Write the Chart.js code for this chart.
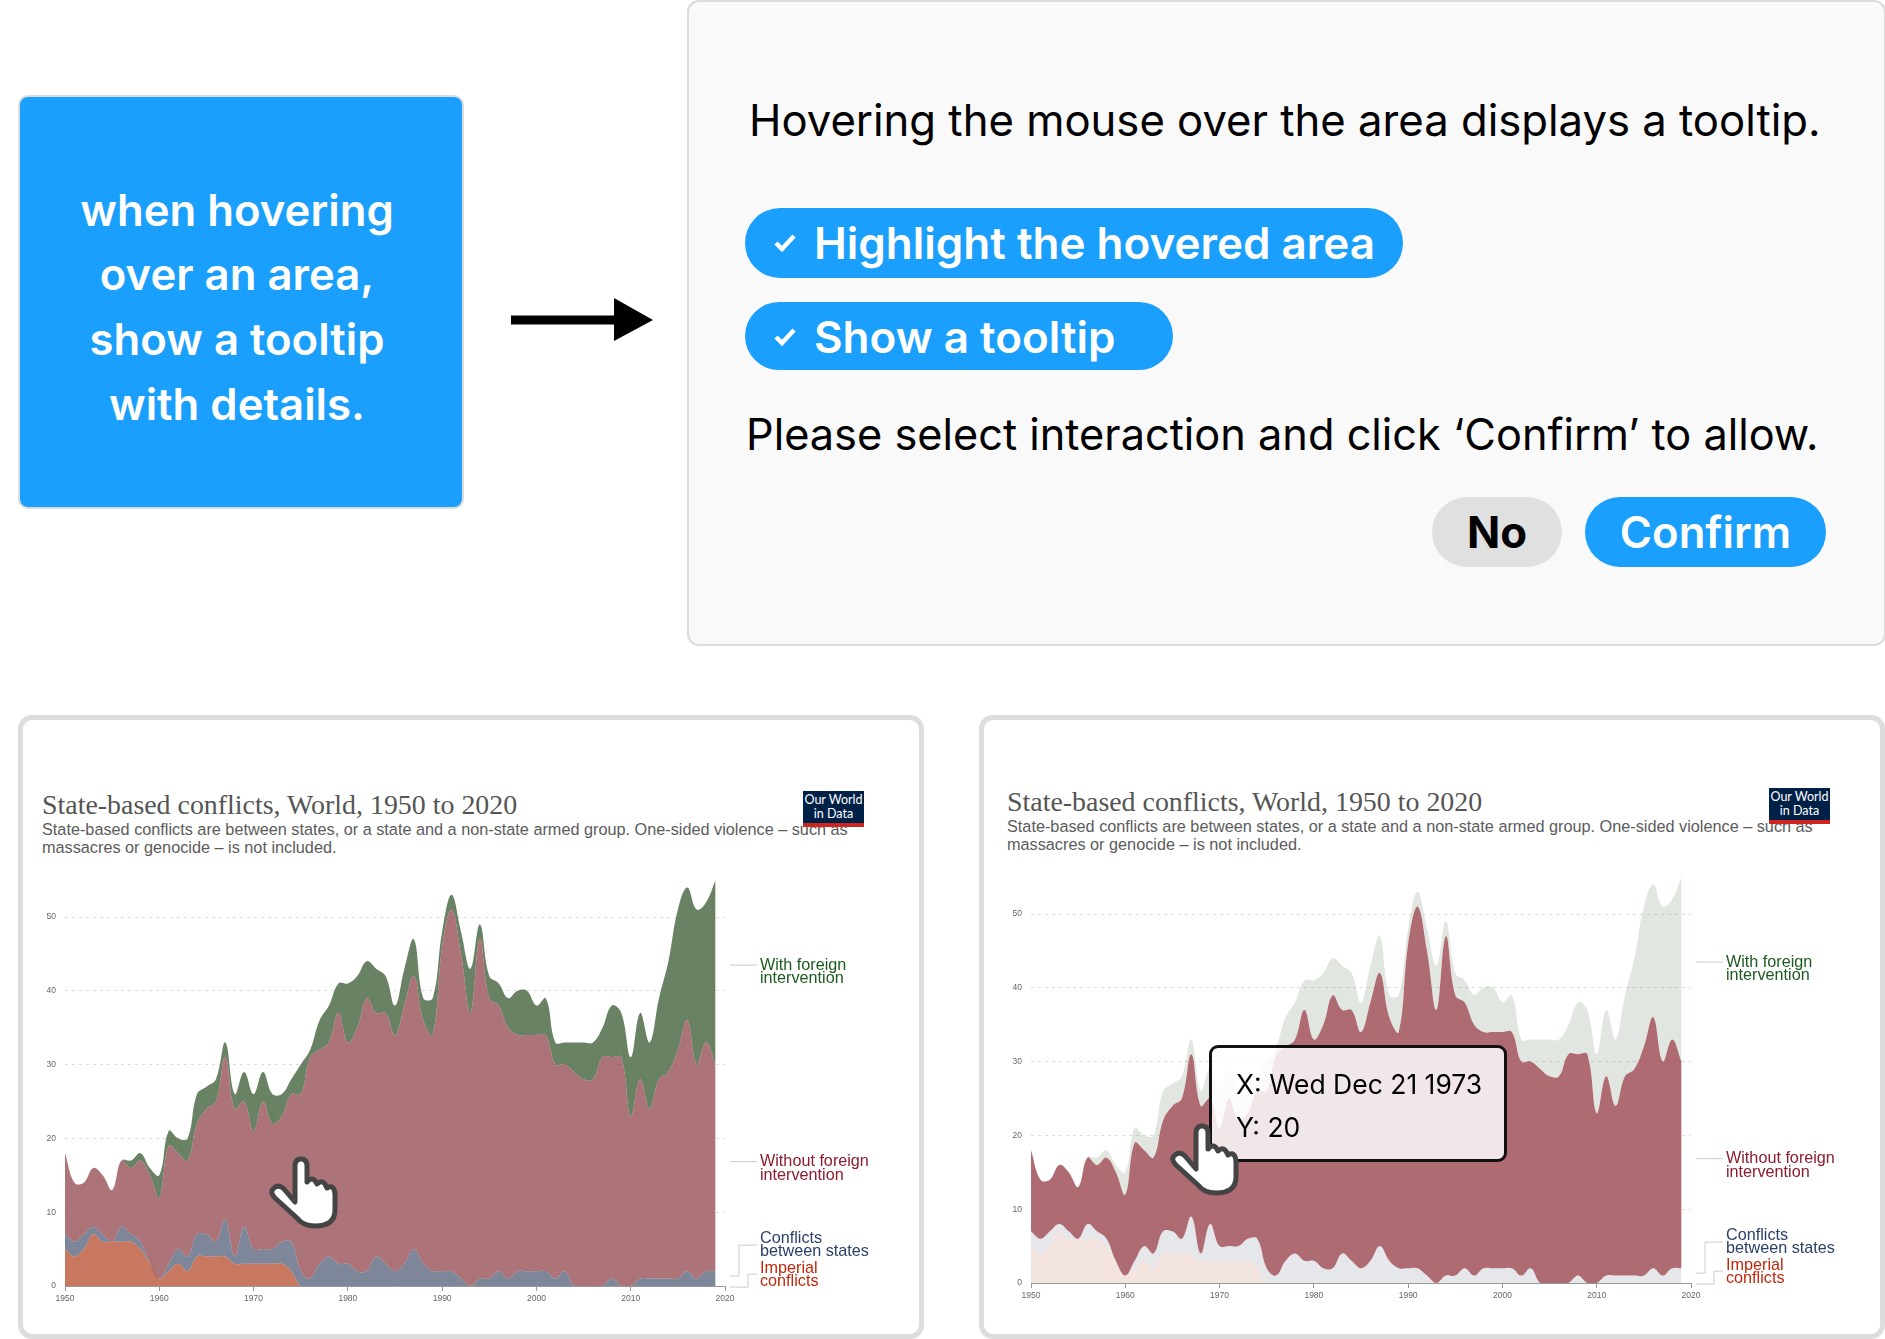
<!DOCTYPE html>
<html>
<head>
<meta charset="utf-8">
<title>Hover tooltip interaction</title>
<script src="https://cdn.jsdelivr.net/npm/chart.js@4"></script>
<style>
    html, body { margin: 0; padding: 0; background: #fff; }
    body { position: relative; width: 1885px; height: 1339px; overflow: hidden; font-family: Inter, sans-serif; }
    .abs { position: absolute; white-space: nowrap; }
    .box { position: absolute; box-sizing: border-box; }
    #request { left: 18px; top: 95px; width: 446px; height: 414px; background: #1a9ffd; border: 2px solid #dcdcdc; border-radius: 10px; }
    .req-line { position: absolute; left: 14px; width: 446px; text-align: center; color: #fff; font-size: 43.7px; font-weight: 600; line-height: 64px; }
    #dialog { left: 687px; top: 0; width: 1199px; height: 646px; background: #f9f9f9; border: 2px solid #dcdcdc; border-radius: 12px; }
    .dlg-text { font-size: 43.5px; color: #000; line-height: 60px; }
    .pill { position: absolute; background: #1a9ffd; border-radius: 36px; }
    .pill-text { color: #fff; font-size: 44px; font-weight: 600; line-height: 60px; }
    .card { position: absolute; box-sizing: border-box; top: 715px; height: 624px; border: 5px solid #dddddd; border-radius: 14px; background: #fff; }
    .owid-title { font-family: "Liberation Serif", serif; font-size: 27.9px; color: #555; line-height: 30px; }
    .owid-sub { font-family: "Liberation Sans", sans-serif; font-size: 16.25px; color: #5b5b5b; line-height: 17.6px; }
    .logo { position: absolute; width: 61px; height: 36px; background: #002147; border-bottom: 4px solid #ce261e; box-sizing: border-box; color: #fff; font-family: Lato, sans-serif; font-size: 12.5px; line-height: 14px; text-align: center; padding-top: 2px; white-space: nowrap; }
    canvas { position: absolute; }
    #tooltip { left: 1209px; top: 1045px; width: 298px; height: 117px; background: rgba(255, 255, 255, 0.84); border: 3px solid #111; border-radius: 9px; }
    .tip-text { font-size: 26.5px; color: #000; line-height: 36px; }
    .hand { position: absolute; overflow: visible; }
</style>
</head>
<body>

<div class="box" id="request"></div>
<div class="req-line" style="top:179px">when hovering</div>
<div class="req-line" style="top:243px">over an area,</div>
<div class="req-line" style="top:308px">show a tooltip</div>
<div class="req-line" style="top:373px">with details.</div>

<svg class="hand" style="left:0;top:0" width="1" height="1">
    <path d="M511 315.5 H614 V298 L653 320 L614 341 V324.5 H511 Z" fill="#000"/>
</svg>

<div class="box" id="dialog"></div>
<div class="abs dlg-text" style="left:749px;top:91px;font-size:43.65px">Hovering the mouse over the area displays a tooltip.</div>
<div class="pill" style="left:745px;top:208px;width:658px;height:70px"></div>
<div class="abs pill-text" style="left:814px;top:213px">Highlight the hovered area</div>
<div class="pill" style="left:745px;top:302px;width:428px;height:68px"></div>
<div class="abs pill-text" style="left:814px;top:307px">Show a tooltip</div>
<svg class="hand" style="left:0;top:0" width="1" height="1">
    <path d="M776 243 L782 249 L794 236" fill="none" stroke="#fff" stroke-width="4.5"/>
    <path d="M776 337 L782 343 L794 330" fill="none" stroke="#fff" stroke-width="4.5"/>
</svg>
<div class="abs dlg-text" style="left:746px;top:404px;font-size:43.3px">Please select interaction and click ‘Confirm’ to allow.</div>
<div class="pill" style="left:1432px;top:497px;width:130px;height:70px;background:#e0e0e0"></div>
<div class="abs pill-text" style="left:1432px;top:503px;width:130px;text-align:center;color:#000;font-size:43.7px;font-weight:700">No</div>
<div class="pill" style="left:1585px;top:497px;width:241px;height:70px"></div>
<div class="abs pill-text" style="left:1585px;top:503px;width:241px;text-align:center;font-size:43.7px">Confirm</div>

<!-- left chart card -->
<div class="card" style="left:18px;width:906px"></div>
<div class="abs owid-title" style="left:42px;top:790px">State-based conflicts, World, 1950 to 2020</div>
<div class="abs owid-sub" style="left:42px;top:821px">State-based conflicts are between states, or a state and a non-state armed group. One-sided violence – such as<br>massacres or genocide – is not included.</div>
<canvas id="chartLeft" width="880" height="444" style="left:25px;top:866px"></canvas>
<div class="logo" style="left:803px;top:791px">Our World<br>in Data</div>

<!-- right chart card -->
<div class="card" style="left:979px;width:906px"></div>
<div class="abs owid-title" style="left:1007px;top:787px">State-based conflicts, World, 1950 to 2020</div>
<div class="abs owid-sub" style="left:1007px;top:818px">State-based conflicts are between states, or a state and a non-state armed group. One-sided violence – such as<br>massacres or genocide – is not included.</div>
<canvas id="chartRight" width="880" height="444" style="left:991px;top:863px"></canvas>
<div class="logo" style="left:1769px;top:788px">Our World<br>in Data</div>

<div class="box" id="tooltip"></div>
<div class="abs tip-text" style="left:1236px;top:1066px">X: Wed Dec 21 1973</div>
<div class="abs tip-text" style="left:1236px;top:1109px">Y: 20</div>

<svg class="hand" style="left:269px;top:1156px" width="68" height="73"><use href="#handShape"/></svg>
<svg class="hand" style="left:1170px;top:1123px" width="68" height="73">
    <defs>
        <path id="handShape" d="M26 46 L26 10 Q26 3 32 3 Q38 3 38 10 L38 26 Q44 19 48 28 Q54 22 58 32 Q65 28 66 38 L66 54 Q66 70 46 70 Q34 70 28 62 L6 42 Q0 36 5 32 Q10 28 15 33 Z" fill="#fff" stroke="#444" stroke-width="5" stroke-linejoin="round"/>
    </defs>
    <use href="#handShape"/>
</svg>

<script>
// Years 1950-2019, one row per decade. Counts per series, stacked in this order.
const years = [
    1950, 1951, 1952, 1953, 1954, 1955, 1956, 1957, 1958, 1959,
    1960, 1961, 1962, 1963, 1964, 1965, 1966, 1967, 1968, 1969,
    1970, 1971, 1972, 1973, 1974, 1975, 1976, 1977, 1978, 1979,
    1980, 1981, 1982, 1983, 1984, 1985, 1986, 1987, 1988, 1989,
    1990, 1991, 1992, 1993, 1994, 1995, 1996, 1997, 1998, 1999,
    2000, 2001, 2002, 2003, 2004, 2005, 2006, 2007, 2008, 2009,
    2010, 2011, 2012, 2013, 2014, 2015, 2016, 2017, 2018, 2019
];
const imperialConflicts = [
    5, 4, 5, 7, 6, 6, 6, 6, 5, 3,
    1, 2, 3, 2, 4, 4, 4, 4, 3, 3,
    3, 3, 3, 3, 2, 0, 0, 0, 0, 0,
    0, 0, 0, 0, 0, 0, 0, 0, 0, 0,
    0, 0, 0, 0, 0, 0, 0, 0, 0, 0,
    0, 0, 0, 0, 0, 0, 0, 0, 0, 0,
    0, 0, 0, 0, 0, 0, 0, 0, 0, 0
];
const betweenStates = [
    2, 2, 2, 1, 1, 0, 2, 1, 1, 0,
    0, 1, 2, 2, 3, 3, 2, 5, 1, 5,
    2, 2, 2, 3, 4, 2, 1, 3, 4, 3,
    3, 2, 2, 4, 3, 2, 3, 5, 3, 2,
    2, 2, 1, 0, 1, 1, 2, 1, 2, 2,
    2, 2, 1, 2, 0, 0, 0, 0, 1, 0,
    0, 1, 1, 1, 1, 1, 2, 1, 2, 2
];
const withoutForeign = [
    11, 8, 7, 8, 8, 7, 9, 9, 11, 12,
    11, 16, 13, 13, 15, 17, 19, 22, 20, 17,
    16, 20, 17, 17, 20, 24, 30, 29, 29, 34,
    30, 33, 37, 33, 34, 32, 35, 37, 33, 32,
    44, 49, 44, 37, 46, 38, 36, 34, 32, 32,
    32, 32, 29, 28, 29, 28, 28, 31, 30, 31,
    23, 27, 23, 27, 28, 31, 34, 29, 31, 28
];
const withForeign = [
    0, 0, 0, 0, 0, 0, 0, 1, 1, 1,
    3, 2, 2, 3, 4, 3, 3, 2, 2, 4,
    5, 4, 4, 3, 2, 4, 1, 4, 5, 4,
    8, 7, 5, 6, 5, 4, 5, 5, 3, 5,
    2, 2, 3, 6, 2, 3, 3, 4, 6, 6,
    4, 5, 3, 3, 4, 5, 5, 4, 7, 6,
    8, 9, 9, 11, 15, 19, 18, 21, 19, 25
];
const seriesValues = [imperialConflicts, betweenStates, withoutForeign, withForeign];
const seriesNames = ['Imperial conflicts', 'Conflicts between states', 'Without foreign intervention', 'With foreign intervention'];
const xTicks = [1950, 1960, 1970, 1980, 1990, 2000, 2010, 2020];
const yTicks = [0, 10, 20, 30, 40, 50];

const normalFills = ['rgba(182,75,43,0.75)', 'rgba(82,95,119,0.75)', 'rgba(144,70,75,0.75)', 'rgba(56,88,48,0.75)'];
const hoverFills = ['rgba(182,75,43,0.15)', 'rgba(82,95,119,0.15)', 'rgba(152,65,74,0.78)', 'rgba(56,88,48,0.15)'];

// Series labels beside the plot, with their connector lines
const labelLines = [
    { text: ['With foreign', 'intervention'], color: '#1d5a1f', top: 85, line: [[5, 85], [32, 85]] },
    { text: ['Without foreign', 'intervention'], color: '#8c1c2e', top: 281.5, line: [[5, 281.5], [32, 281.5]] },
    { text: ['Conflicts', 'between states'], color: '#2b3f6b', top: 358, line: [[5, 396], [14, 396], [14, 365], [32, 365]] },
    { text: ['Imperial', 'conflicts'], color: '#c0280c', top: 388, line: [[5, 407], [23, 407], [23, 394], [32, 394]] }
];

const seriesLabels = {
    id: 'seriesLabels',
    afterDraw(chart) {
        const { ctx, chartArea } = chart;
        const originX = chartArea.right;
        const originY = chartArea.top;
        ctx.save();
        labelLines.forEach(item => {
            ctx.strokeStyle = '#cccccc';
            ctx.lineWidth = 1;
            ctx.beginPath();
            item.line.forEach((p, i) => {
                if (i === 0) ctx.moveTo(originX + p[0], originY + p[1]);
                else ctx.lineTo(originX + p[0], originY + p[1]);
            });
            ctx.stroke();
            ctx.fillStyle = item.color;
            ctx.font = '16.2px "Liberation Sans", sans-serif';
            ctx.textBaseline = 'middle';
            item.text.forEach((t, i) => ctx.fillText(t, originX + 35, originY + item.top + i * 13.5));
        });
        ctx.restore();
    }
};

function createAreaChart(id, fills) {
    return new Chart(document.getElementById(id), {
        type: 'line',
        plugins: [seriesLabels],
        data: {
            datasets: seriesValues.map((values, i) => ({
                label: seriesNames[i],
                data: values.map((v, j) => ({ x: years[j], y: v })),
                backgroundColor: fills[i],
                borderWidth: 0,
                pointRadius: 0,
                tension: 0.4,
                fill: i === 0 ? 'origin' : '-1'
            }))
        },
        options: {
            responsive: false,
            animation: false,
            layout: { padding: { top: 5, right: 180, bottom: 0, left: 0 } },
            plugins: { legend: { display: false }, tooltip: { enabled: false } },
            scales: {
                x: {
                    type: 'linear',
                    min: xTicks[0],
                    max: xTicks[xTicks.length - 1],
                    afterBuildTicks(axis) { axis.ticks = xTicks.map(v => ({ value: v })); },
                    afterFit(axis) { axis.height = 24; },
                    grid: { drawOnChartArea: false, tickLength: 5, tickColor: '#999' },
                    border: { display: true, color: '#999' },
                    ticks: {
                        color: '#666',
                        font: { size: 8.5, family: '"Liberation Sans", sans-serif' },
                        maxRotation: 0,
                        autoSkip: false,
                        padding: 3,
                        callback: v => String(v)
                    }
                },
                y: {
                    stacked: true,
                    min: 0,
                    max: 55,
                    afterBuildTicks(axis) { axis.ticks = yTicks.map(v => ({ value: v })); },
                    afterFit(axis) { axis.width = 40; },
                    grid: { color: '#dddddd', drawTicks: false },
                    border: { display: false, dash: [3, 4] },
                    ticks: {
                        color: '#666',
                        font: { size: 8.5, family: '"Liberation Sans", sans-serif' },
                        padding: 9,
                        callback: v => String(v)
                    }
                }
            }
        }
    });
}

createAreaChart('chartLeft', normalFills);
createAreaChart('chartRight', hoverFills);
</script>
</body>
</html>
